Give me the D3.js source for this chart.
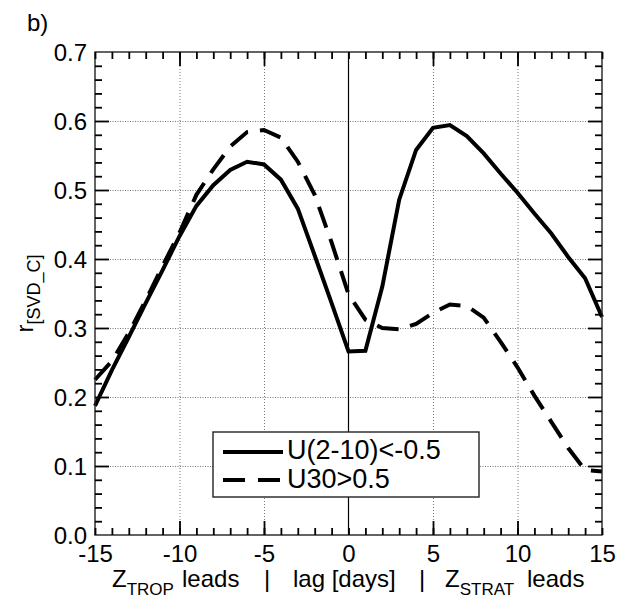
<!DOCTYPE html>
<html>
<head>
<meta charset="utf-8">
<script src="https://cdn.jsdelivr.net/npm/d3@7"></script>
<style>
  body { margin: 0; background: #fff; }
  svg { display: block; }
  text { font-family: "Liberation Sans", Arial, Helvetica, sans-serif; fill: #000; }
</style>
</head>
<body>
<svg id="chart" width="620" height="602"></svg>
<script>
// Lag in days (negative: Z_TROP leads, positive: Z_STRAT leads)
const lags = [-15, -14, -13, -12, -11, -10, -9, -8, -7, -6, -5, -4, -3, -2, -1,
              0, 1, 2, 3, 4, 5, 6, 7, 8, 9, 10, 11, 12, 13, 14, 15];

// Correlation r[SVD_C] for composite U(2-10)<-0.5
const rWeakU = [0.187, 0.239, 0.287, 0.336, 0.384, 0.433, 0.477, 0.507, 0.529, 0.541, 0.537,
                0.515, 0.473, 0.405, 0.336, 0.266, 0.267, 0.360, 0.486, 0.558, 0.590,
                0.594, 0.578, 0.553, 0.524, 0.496, 0.466, 0.437, 0.403, 0.372, 0.316];

// Correlation r[SVD_C] for composite U30>0.5
const rStrongU = [0.225, 0.252, 0.293, 0.340, 0.390, 0.438, 0.493, 0.530, 0.563, 0.584, 0.587,
                  0.576, 0.541, 0.493, 0.424, 0.349, 0.312, 0.300, 0.298, 0.306, 0.322,
                  0.334, 0.332, 0.315, 0.280, 0.243, 0.202, 0.164, 0.126, 0.094, 0.092];

const seriesNames = ["U(2-10)<-0.5", "U30>0.5"];

const xTickValues = [-15, -10, -5, 0, 5, 10, 15];
const yTickValues = [0.0, 0.1, 0.2, 0.3, 0.4, 0.5, 0.6, 0.7];
const xGridValues = [-10, -5, 5, 10];
const yGridValues = [0.1, 0.2, 0.3, 0.4, 0.5, 0.6];
const xMinorValues = lags;
const yMinorValues = [0.02, 0.04, 0.06, 0.08, 0.12, 0.14, 0.16, 0.18, 0.22, 0.24, 0.26, 0.28,
                      0.32, 0.34, 0.36, 0.38, 0.42, 0.44, 0.46, 0.48, 0.52, 0.54, 0.56, 0.58,
                      0.62, 0.64, 0.66, 0.68];

const svg = d3.select("#chart");
const plotL = 95, plotR = 602, plotT = 52, plotB = 535;

const x = d3.scaleLinear().domain([-15, 15]).range([plotL, plotR]);
const y = d3.scaleLinear().domain([0, 0.7]).range([plotB, plotT]);

const FS = 24;

// dotted grid
svg.append("g").attr("transform", `translate(0,${plotB})`)
  .call(d3.axisBottom(x).tickValues(xGridValues).tickSize(-(plotB - plotT)).tickFormat(""))
  .call(g => g.select(".domain").remove())
  .call(g => g.selectAll("line").attr("stroke", "#777").attr("stroke-width", 1)
    .attr("stroke-dasharray", "1,2"));
svg.append("g").attr("transform", `translate(${plotL},0)`)
  .call(d3.axisLeft(y).tickValues(yGridValues).tickSize(-(plotR - plotL)).tickFormat(""))
  .call(g => g.select(".domain").remove())
  .call(g => g.selectAll("line").attr("stroke", "#777").attr("stroke-width", 1)
    .attr("stroke-dasharray", "1,1.5"));

// zero-lag line
svg.append("line")
  .attr("x1", x(0)).attr("x2", x(0)).attr("y1", y(0)).attr("y2", y(0.7))
  .attr("stroke", "#000").attr("stroke-width", 1.2);

// curves
const line = d3.line().x((d, i) => x(lags[i])).y(d => y(d));
svg.append("path").datum(rWeakU)
  .attr("d", line).attr("fill", "none").attr("stroke", "#000")
  .attr("stroke-width", 4).attr("stroke-linejoin", "miter");
svg.append("path").datum(rStrongU)
  .attr("d", line).attr("fill", "none").attr("stroke", "#000")
  .attr("stroke-width", 4).attr("stroke-dasharray", "22,12");

// frame
svg.append("rect")
  .attr("x", plotL).attr("y", plotT).attr("width", plotR - plotL).attr("height", plotB - plotT)
  .attr("fill", "none").attr("stroke", "#222").attr("stroke-width", 1.4);

// inward ticks on all four sides
function ticks(axis, tr, values, size) {
  svg.append("g").attr("transform", tr)
    .call(axis.tickValues(values).tickSize(-size).tickFormat(""))
    .call(g => g.select(".domain").remove())
    .call(g => g.selectAll("line").attr("stroke", "#000").attr("stroke-width", 1.8));
}
ticks(d3.axisBottom(x), `translate(0,${plotB})`, xMinorValues, 7);
ticks(d3.axisTop(x), `translate(0,${plotT})`, xMinorValues, 7);
ticks(d3.axisBottom(x), `translate(0,${plotB})`, xGridValues, 14);
ticks(d3.axisTop(x), `translate(0,${plotT})`, xGridValues, 14);
ticks(d3.axisLeft(y), `translate(${plotL},0)`, yMinorValues, 7);
ticks(d3.axisRight(y), `translate(${plotR},0)`, yMinorValues, 7);
ticks(d3.axisLeft(y), `translate(${plotL},0)`, yGridValues, 14);
ticks(d3.axisRight(y), `translate(${plotR},0)`, yGridValues, 14);

// tick labels (plain hyphen for negatives)
svg.append("g").attr("transform", `translate(0,${plotB})`)
  .call(d3.axisBottom(x).tickValues(xTickValues).tickSize(0).tickPadding(10).tickFormat(d => String(d)))
  .call(g => g.select(".domain").remove())
  .call(g => g.selectAll("text").attr("font-size", FS).attr("fill", "#000"));
svg.append("g").attr("transform", `translate(${plotL},0)`)
  .call(d3.axisLeft(y).tickValues(yTickValues).tickSize(0).tickPadding(8).tickFormat(d3.format(".1f")))
  .call(g => g.select(".domain").remove())
  .call(g => g.selectAll("text").attr("font-size", FS).attr("dy", "0.36em").attr("fill", "#000"));
svg.selectAll("g").attr("font-family", null);

// panel label
svg.append("text").attr("x", 27).attr("y", 31).attr("font-size", FS).text("b)");

// y-axis title
const yt = svg.append("text")
  .attr("transform", `translate(33,${(plotT + plotB) / 2}) rotate(-90)`)
  .attr("text-anchor", "middle").attr("font-size", FS);
yt.append("tspan").text("r");
yt.append("tspan").attr("font-size", 18).attr("dy", 7).text("[SVD_C]");

// x-axis title
const xt = svg.append("text").attr("y", 587).attr("font-size", FS);
xt.append("tspan").attr("x", 112).text("Z");
xt.append("tspan").attr("font-size", 17).attr("dy", 8).text("TROP");
xt.append("tspan").attr("x", 182).attr("dy", -8).text("leads");
xt.append("tspan").attr("x", 264).text("|");
xt.append("tspan").attr("x", 293).text("lag [days]");
xt.append("tspan").attr("x", 419).text("|");
xt.append("tspan").attr("x", 445).text("Z");
xt.append("tspan").attr("font-size", 17).attr("dy", 8).text("STRAT");
xt.append("tspan").attr("x", 527).attr("dy", -8).text("leads");

// legend
const lg = svg.append("g");
lg.append("rect").attr("x", 213).attr("y", 432).attr("width", 266).attr("height", 65)
  .attr("fill", "#fff").attr("stroke", "#222").attr("stroke-width", 1.4);
const dashes = [null, "22,13"];
seriesNames.forEach((name, i) => {
  const yy = 452 + i * 28;
  lg.append("line").attr("x1", 223).attr("x2", 283).attr("y1", yy).attr("y2", yy)
    .attr("stroke", "#000").attr("stroke-width", 4).attr("stroke-dasharray", dashes[i]);
  lg.append("text").attr("x", 287).attr("y", yy + 7 + i * 1).attr("font-size", 27).text(name);
});
</script>
</body>
</html>
